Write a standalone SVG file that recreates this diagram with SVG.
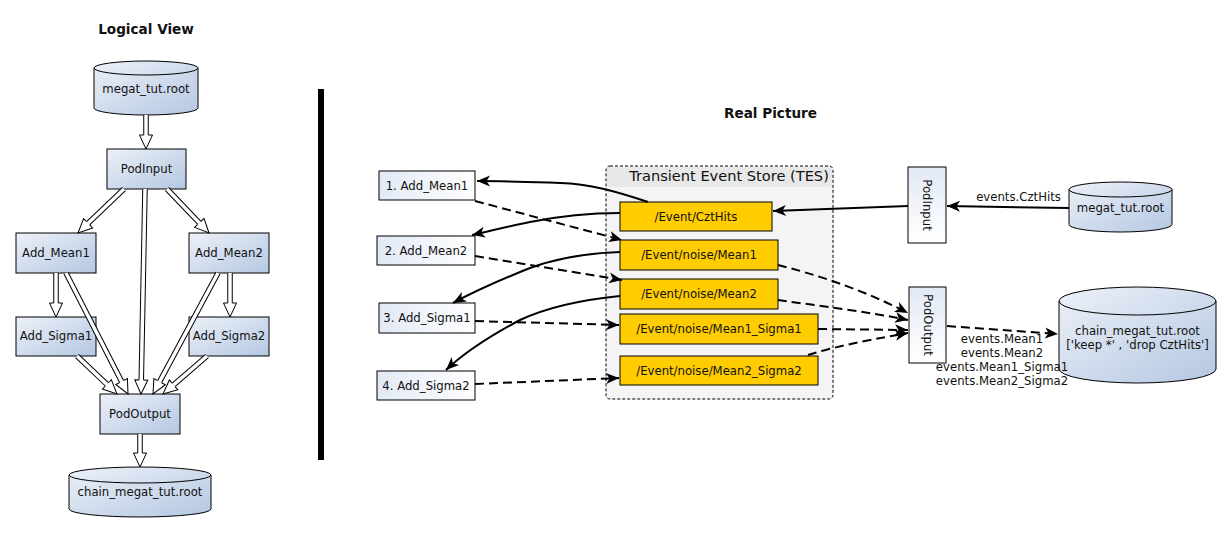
<svg xmlns="http://www.w3.org/2000/svg" width="1231" height="535" viewBox="0 0 1231 535">
<style>
text{font-family:"DejaVu Sans","Liberation Sans",sans-serif;font-size:11.7px;fill:#111;}
.title{font-weight:bold;font-size:13.6px;}
.c{text-anchor:middle;}
.nodeL{fill:url(#gL);stroke:#000;stroke-width:1;}
.nodeR{fill:url(#gR);stroke:#000;stroke-width:1;}
.nodeV{fill:url(#gV);stroke:#000;stroke-width:1;}
.cyl{fill:url(#gL);stroke:#000;stroke-width:1;}
.arc{fill:none;stroke:#000;stroke-width:1;}
.tes{fill:#ffcc00;stroke:#000;stroke-width:1;}
.dbo{fill:none;stroke:#000;stroke-width:5.5;}
.dbi{fill:none;stroke:#fff;stroke-width:3.5;marker-end:url(#hollow);}
.sol{fill:none;stroke:#000;stroke-width:2;marker-end:url(#stealth);}
.dsh{fill:none;stroke:#000;stroke-width:2;stroke-dasharray:9,5;marker-end:url(#stealth);}
</style>
<defs>
<linearGradient id="gL" x1="0" y1="0" x2="1" y2="1">
<stop offset="0" stop-color="#edf1f8"/>
<stop offset="1" stop-color="#b4c7e2"/>
</linearGradient>
<linearGradient id="gR" x1="0" y1="0" x2="1" y2="0">
<stop offset="0" stop-color="#e2e9f5"/>
<stop offset="1" stop-color="#ffffff"/>
</linearGradient>
<linearGradient id="gV" x1="0" y1="0" x2="0" y2="1">
<stop offset="0" stop-color="#e2e9f5"/>
<stop offset="1" stop-color="#ffffff"/>
</linearGradient>
<marker id="hollow" markerUnits="userSpaceOnUse" viewBox="-1 -8 17 16" refX="0" refY="0" markerWidth="17" markerHeight="16" orient="auto">
<path d="M0,-6.5 L14,0 L0,6.5 Z" fill="#fff"/>
<path d="M0,-2.25 L0,-6.5 L14,0 L0,6.5 L0,2.25" fill="none" stroke="#000" stroke-width="1"/>
</marker>
<marker id="stealth" markerUnits="userSpaceOnUse" viewBox="-14 -7 15 14" refX="0" refY="0" markerWidth="15" markerHeight="14" orient="auto">
<path d="M0,0 L-13,-5.5 L-9.5,0 L-13,5.5 Z" fill="#000"/>
</marker>
</defs>
<rect width="1231" height="535" fill="#fff"/>

<text class="title c" x="146" y="34">Logical View</text>
<text class="title c" x="770.5" y="118">Real Picture</text>
<rect id="divider" x="318" y="89" width="6" height="371" fill="#000"/>

<!-- Logical view nodes -->
<g id="l-megat">
<path class="cyl" d="M94,68 A52,7 0 0 1 198,68 L198,108 A52,7 0 0 1 94,108 Z"/>
<path class="arc" d="M94,68 A52,7 0 0 0 198,68"/>
<text class="c" x="146" y="93">megat_tut.root</text>
</g>
<g id="l-podinput">
<rect class="nodeL" x="107" y="149" width="79" height="40"/>
<text class="c" x="146.5" y="173">PodInput</text>
</g>
<g id="l-addmean1">
<rect class="nodeL" x="16" y="233" width="80" height="40"/>
<text class="c" x="56" y="257">Add_Mean1</text>
</g>
<g id="l-addmean2">
<rect class="nodeL" x="189" y="233" width="80" height="40"/>
<text class="c" x="229" y="257">Add_Mean2</text>
</g>
<g id="l-addsigma1">
<rect class="nodeL" x="16" y="317" width="80" height="39"/>
<text class="c" x="56" y="340">Add_Sigma1</text>
</g>
<g id="l-addsigma2">
<rect class="nodeL" x="189" y="317" width="80" height="39"/>
<text class="c" x="229" y="340">Add_Sigma2</text>
</g>
<g id="l-podoutput">
<rect class="nodeL" x="100" y="394" width="80" height="40"/>
<text class="c" x="140" y="418">PodOutput</text>
</g>
<g id="l-chain">
<path class="cyl" d="M69,475 A71,8 0 0 1 211,475 L211,509 A71,8 0 0 1 69,509 Z"/>
<path class="arc" d="M69,475 A71,8 0 0 0 211,475"/>
<text class="c" x="140" y="496">chain_megat_tut.root</text>
</g>

<!-- Logical view connectors -->
<g id="l-connectors">
<path class="dbo" d="M146,115 L146,135"/><path class="dbi" d="M146,115 L146,135"/>
<path class="dbo" d="M124,189 L88.12,223.32"/><path class="dbi" d="M124,189 L88.12,223.32"/>
<path class="dbo" d="M167,189 L199.33,222.87"/><path class="dbi" d="M167,189 L199.33,222.87"/>
<path class="dbo" d="M145,189 L141.27,380"/><path class="dbi" d="M145,189 L141.27,380"/>
<path class="dbo" d="M56,273 L56,303"/><path class="dbi" d="M56,273 L56,303"/>
<path class="dbo" d="M66,273 L121.62,381.54"/><path class="dbi" d="M66,273 L121.62,381.54"/>
<path class="dbo" d="M77,356 L106.85,384.36"/><path class="dbi" d="M77,356 L106.85,384.36"/>
<path class="dbo" d="M218,273 L159.63,381.67"/><path class="dbi" d="M218,273 L159.63,381.67"/>
<path class="dbo" d="M230,273 L230,303"/><path class="dbi" d="M230,273 L230,303"/>
<path class="dbo" d="M207,356 L173.6,384.85"/><path class="dbi" d="M207,356 L173.6,384.85"/>
<path class="dbo" d="M140,434 L140,453"/><path class="dbi" d="M140,434 L140,453"/>
</g>

<!-- Real picture -->
<g id="tes-store">
<rect x="606" y="166" width="227" height="233" rx="4" fill="#f4f4f4"/>
<rect x="607" y="167" width="225" height="20" rx="3" fill="#e8e8e8"/>
<rect x="606" y="166" width="227" height="233" rx="4" fill="none" stroke="#000" stroke-width="1" stroke-dasharray="3,2"/>
<text class="c" x="729" y="181" style="font-size:14.6px">Transient Event Store (TES)</text>
</g>
<g id="tes-czthits">
<rect class="tes" x="620" y="202" width="152" height="29"/>
<text class="c" x="696" y="221">/Event/CztHits</text>
</g>
<g id="tes-mean1">
<rect class="tes" x="620" y="240" width="158" height="30"/>
<text class="c" x="699" y="259">/Event/noise/Mean1</text>
</g>
<g id="tes-mean2">
<rect class="tes" x="620" y="279" width="158" height="30"/>
<text class="c" x="699" y="298">/Event/noise/Mean2</text>
</g>
<g id="tes-mean1sigma1">
<rect class="tes" x="620" y="314" width="198" height="30"/>
<text class="c" x="719" y="333">/Event/noise/Mean1_Sigma1</text>
</g>
<g id="tes-mean2sigma2">
<rect class="tes" x="620" y="356" width="198" height="29"/>
<text class="c" x="719" y="375">/Event/noise/Mean2_Sigma2</text>
</g>

<g id="r-addmean1">
<rect class="nodeR" x="379" y="171" width="96" height="29"/>
<text class="c" x="427" y="190">1. Add_Mean1</text>
</g>
<g id="r-addmean2">
<rect class="nodeR" x="377" y="236" width="98" height="29"/>
<text class="c" x="426" y="255">2. Add_Mean2</text>
</g>
<g id="r-addsigma1">
<rect class="nodeR" x="379" y="303" width="96" height="30"/>
<text class="c" x="427" y="322">3. Add_Sigma1</text>
</g>
<g id="r-addsigma2">
<rect class="nodeR" x="377" y="371" width="98" height="29"/>
<text class="c" x="426" y="390">4. Add_Sigma2</text>
</g>

<g id="r-podinput">
<rect class="nodeV" x="908" y="167" width="38" height="76"/>
<text class="c" x="927" y="209" transform="rotate(90 927 205)">PodInput</text>
</g>
<g id="r-podoutput">
<rect class="nodeV" x="909" y="287" width="37" height="76"/>
<text class="c" x="927.5" y="329" transform="rotate(90 927.5 325)">PodOutput</text>
</g>
<g id="r-megat">
<path class="cyl" d="M1069,189.5 A51.5,7.5 0 0 1 1172,189.5 L1172,224.5 A51.5,7.5 0 0 1 1069,224.5 Z"/>
<path class="arc" d="M1069,189.5 A51.5,7.5 0 0 0 1172,189.5"/>
<text class="c" x="1120.5" y="212">megat_tut.root</text>
</g>
<g id="r-chain">
<path class="cyl" d="M1059,301 A78.5,14 0 0 1 1216,301 L1216,369 A78.5,14 0 0 1 1059,369 Z"/>
<path class="arc" d="M1059,301 A78.5,14 0 0 0 1216,301"/>
<text class="c" x="1137.5" y="335">chain_megat_tut.root</text>
<text class="c" x="1137.5" y="349">['keep *' , 'drop CztHits']</text>
</g>

<g id="r-connectors">
<path class="sol" d="M648,202 C615,191 590,184 560,183 C530,182 505,181 477,181"/>
<path class="sol" d="M620,213 C590,213 560,216 530,222 C510,226 490,231 472,235"/>
<path class="sol" d="M620,252 C590,253 560,257 530,268 C500,280 475,291 453,303"/>
<path class="sol" d="M620,296 C590,299 550,306 520,320 C490,336 465,352 446,370"/>
<path class="dsh" d="M475,201 L622,240"/>
<path class="dsh" d="M475,256 L622,280"/>
<path class="dsh" d="M475,321 L619,325"/>
<path class="dsh" d="M475,384 L619,378"/>
<path class="sol" d="M908,206 L773,211"/>
<path class="sol" d="M1069,208 L947,206"/>
<path class="dsh" d="M778,265 C810,273 860,288 908,313"/>
<path class="dsh" d="M778,300 C820,306 870,312 908,320"/>
<path class="dsh" d="M818,329 L908,330"/>
<path class="dsh" d="M808,355 C840,345 880,338 908,333"/>
<path class="dsh" d="M947,326 L1058,334"/>
<text class="c" x="1018.5" y="201">events.CztHits</text>
<text class="c" x="1002" y="343">events.Mean1</text>
<text class="c" x="1002" y="357">events.Mean2</text>
<text class="c" x="1002" y="371">events.Mean1_Sigma1</text>
<text class="c" x="1002" y="385">events.Mean2_Sigma2</text>
</g>
</svg>
